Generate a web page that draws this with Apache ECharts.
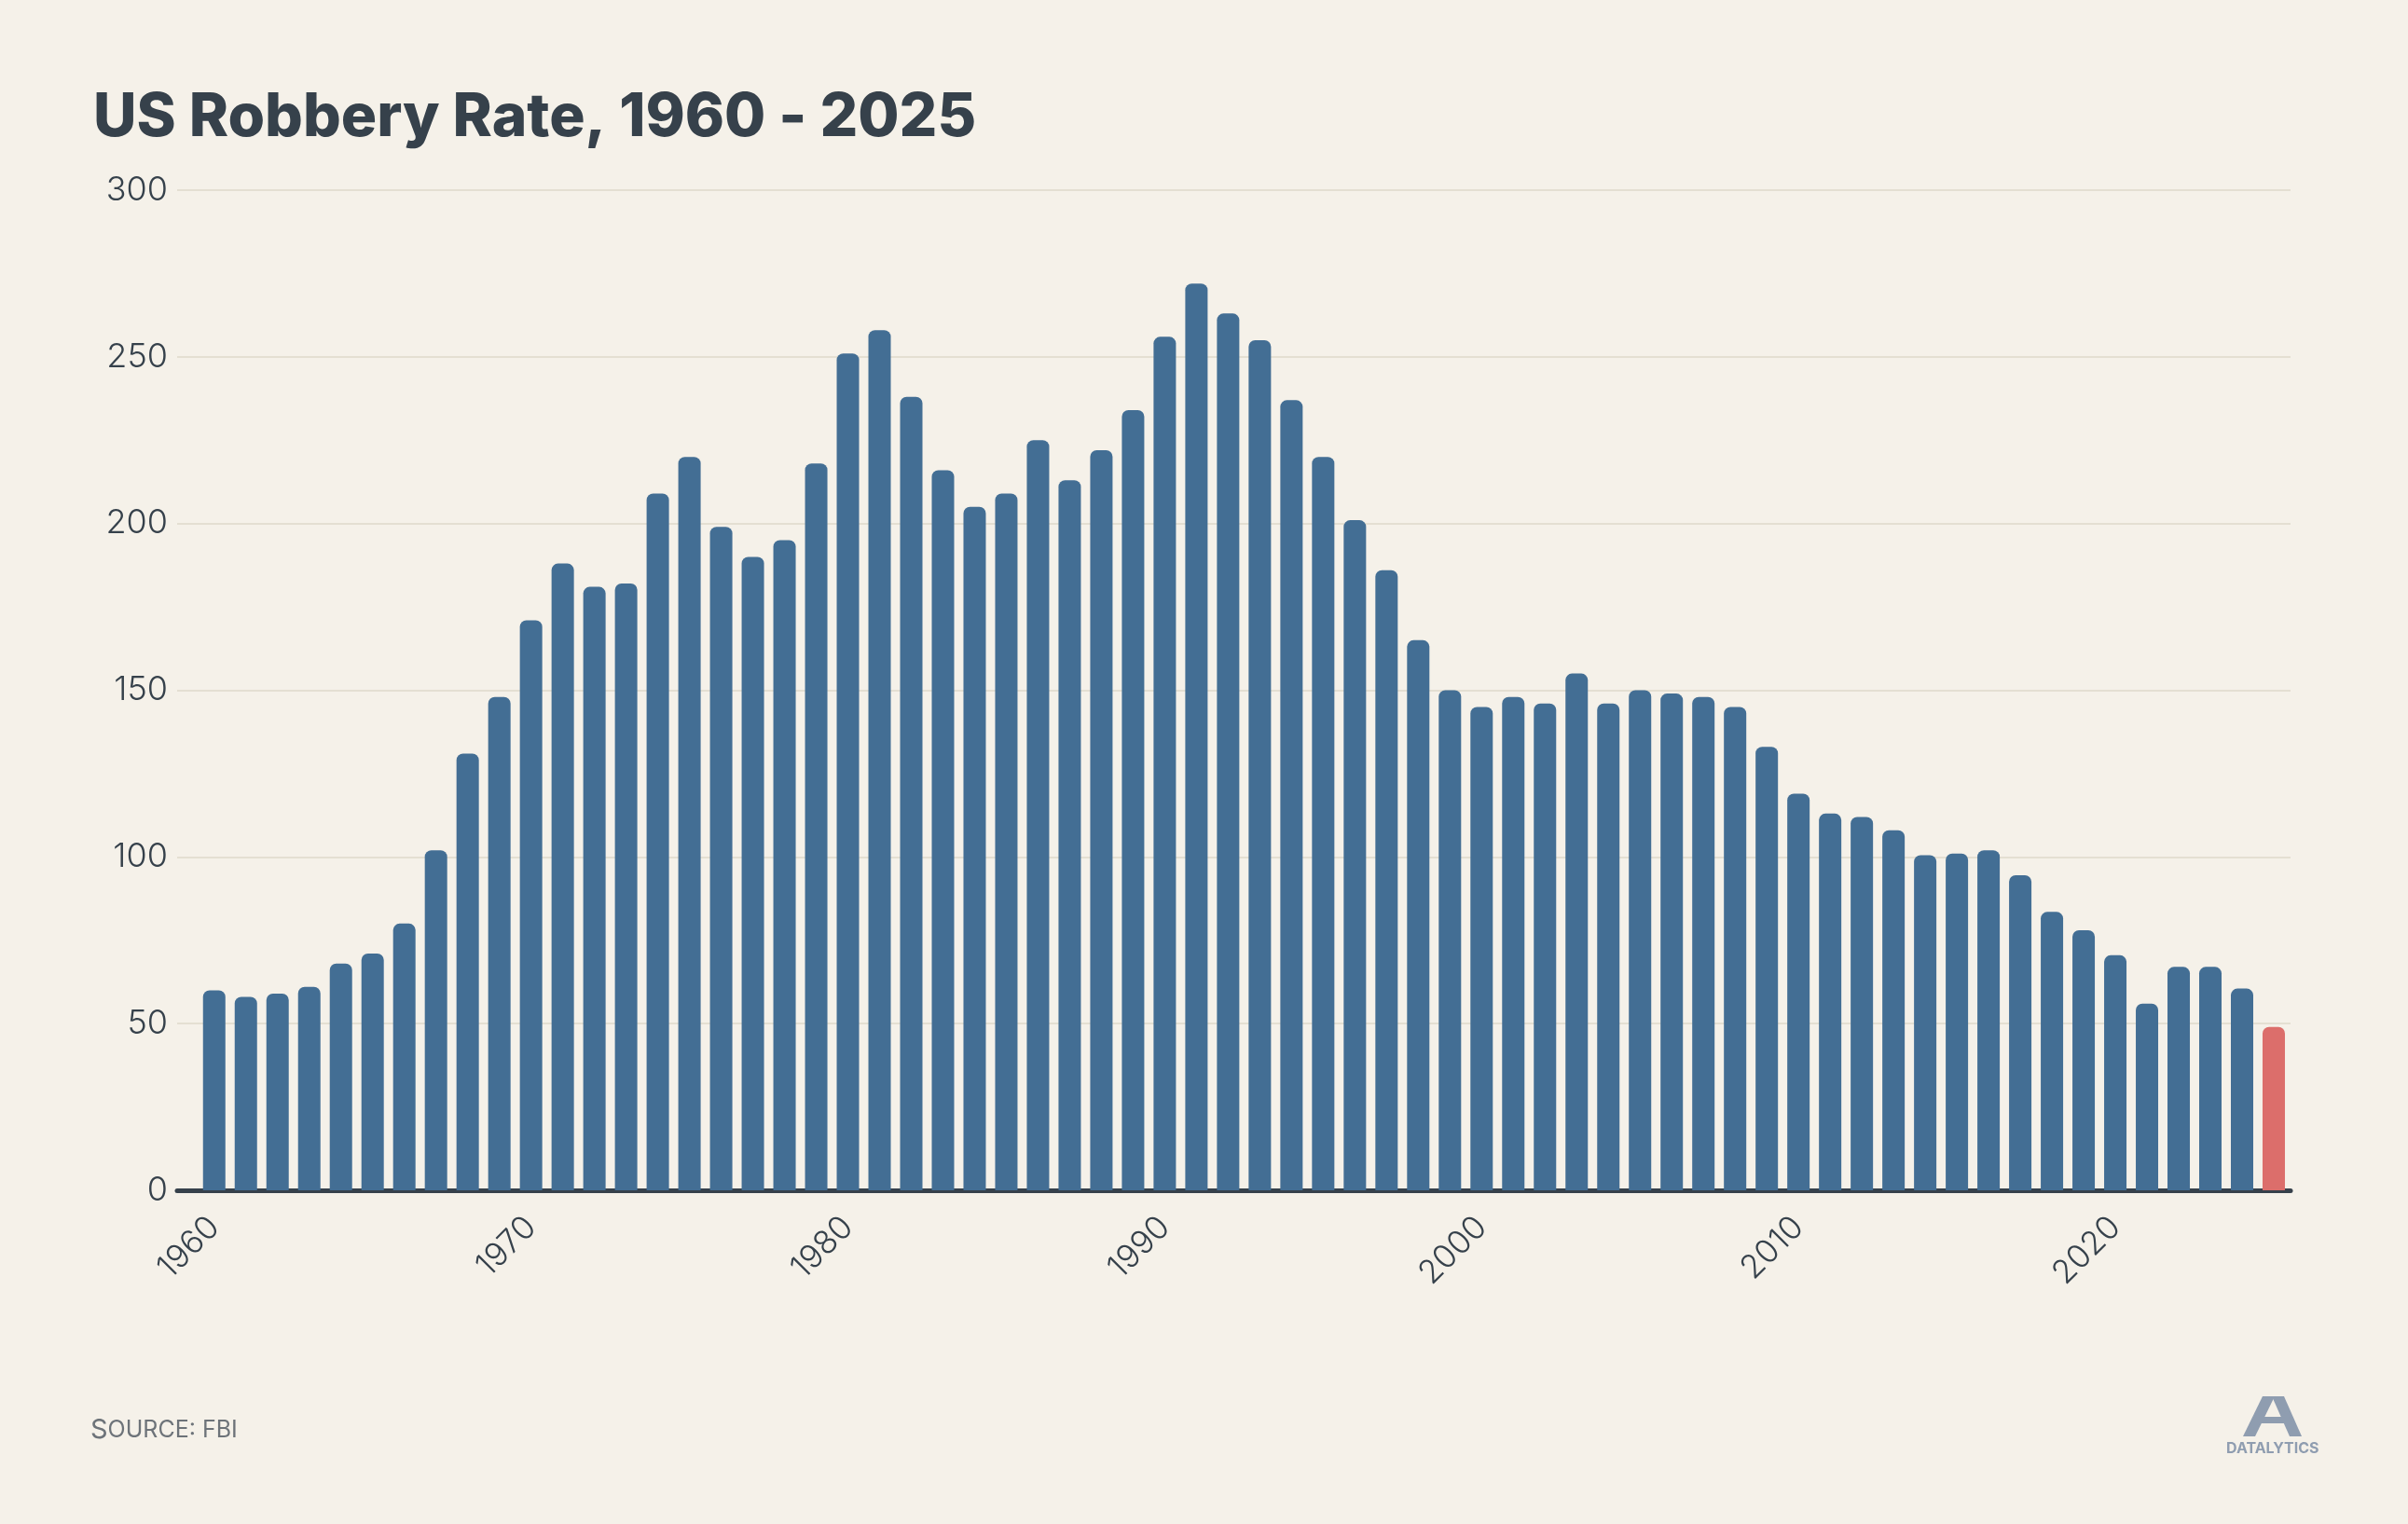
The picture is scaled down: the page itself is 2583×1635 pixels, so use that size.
<!DOCTYPE html>
<html lang="en">
<head>
  <meta charset="UTF-8">
  <title>US Robbery Rate</title>
  <script src="https://cdn.jsdelivr.net/npm/echarts@6/dist/echarts.min.js"></script>
  <style>
    html, body { margin: 0; padding: 0; background: #f5f1e9; }
    #main { width: 2583px; height: 1635px; }
  </style>
</head>
<body>
  <div id="main"></div>
  <script type="text/javascript">
  // robbery rate per 100k
  var years = [];
  for (var y = 1960; y <= 2025; y++) years.push(y);
  var rates = [60, 58, 59, 61, 68, 71, 80, 102, 131, 148,
               171, 188, 181, 182, 209, 220, 199, 190, 195, 218,
               251, 258, 238, 216, 205, 209, 225, 213, 222, 234,
               256, 272, 263, 255, 237, 220, 201, 186, 165, 150,
               145, 148, 146, 155, 146, 150, 149, 148, 145, 133,
               119, 113, 112, 108, 100.5, 101, 102, 94.5, 83.5, 78,
               70.5, 56, 67, 67, 60.5, 49];
  var yTicks = [0, 50, 100, 150, 200, 250, 300];
  var xTicks = [1960, 1970, 1980, 1990, 2000, 2010, 2020];

  var BLUE = '#436e94', RED = '#dc6e6b', INK = '#36414b';

  var data = years.map(function (yr, i) {
    return {
      value: [yr, rates[i]],
      itemStyle: { color: i === years.length - 1 ? RED : BLUE }
    };
  });

  var myChart = echarts.init(document.getElementById('main'));
  myChart.setOption({
    backgroundColor: '#f5f1e9',
    animation: false,
    title: {
      text: 'US Robbery Rate, 1960 - 2025',
      left: 95, top: 90,
      textStyle: { fontFamily: 'Inter', fontWeight: 800, fontSize: 64, color: INK }
    },
    grid: { left: 190, right: 126, top: 204, bottom: 358 },
    xAxis: {
      type: 'value',
      min: 1958.83, max: 2025.53,
      splitLine: { show: false },
      axisTick: { show: false },
      axisLine: { show: true, lineStyle: { color: INK, width: 5 } },
      axisLabel: {
        customValues: xTicks,
        rotate: 45, margin: 34,
        fontFamily: 'Inter', fontWeight: 300, fontSize: 35, color: INK,
        formatter: function (v) { return String(v); }
      }
    },
    yAxis: {
      type: 'value',
      min: 0, max: 300, interval: 50,
      axisLine: { show: false },
      axisTick: { show: false },
      splitLine: { lineStyle: { color: '#e4dfd2', width: 2 } },
      axisLabel: {
        customValues: yTicks,
        margin: 10,
        fontFamily: 'Inter', fontWeight: 300, fontSize: 36, color: INK
      }
    },
    series: [{
      type: 'bar',
      data: data,
      barWidth: 24,
      itemStyle: { borderRadius: [7, 7, 0, 0] }
    }],
    graphic: [
      {
        type: 'text', left: 97, top: 1520,
        style: {
          text: '{a|S}{b|OURCE: FBI}',
          rich: {
            a: { fontFamily: 'Inter', fontSize: 29, fill: '#6d7379' },
            b: { fontFamily: 'Inter', fontSize: 25, fill: '#6d7379' }
          }
        }
      },
      {
        type: 'polygon', z: 10,
        shape: { points: [[2406, 1541], [2427, 1498], [2440, 1498], [2419, 1541]] },
        style: { fill: '#8f9db0' }
      },
      {
        type: 'polygon', z: 10,
        shape: { points: [[2437, 1498], [2450, 1498], [2469, 1541], [2456, 1541]] },
        style: { fill: '#8f9db0' }
      },
      {
        type: 'polygon', z: 10,
        shape: { points: [[2424, 1520], [2455, 1520], [2458, 1527], [2421, 1527]] },
        style: { fill: '#8f9db0' }
      },
      {
        type: 'text', left: 2388, top: 1546,
        style: { text: 'DATALYTICS', fontFamily: 'Inter', fontWeight: 700, fontSize: 16, fill: '#8f9db0' }
      }
    ]
  });
  </script>
</body>
</html>
